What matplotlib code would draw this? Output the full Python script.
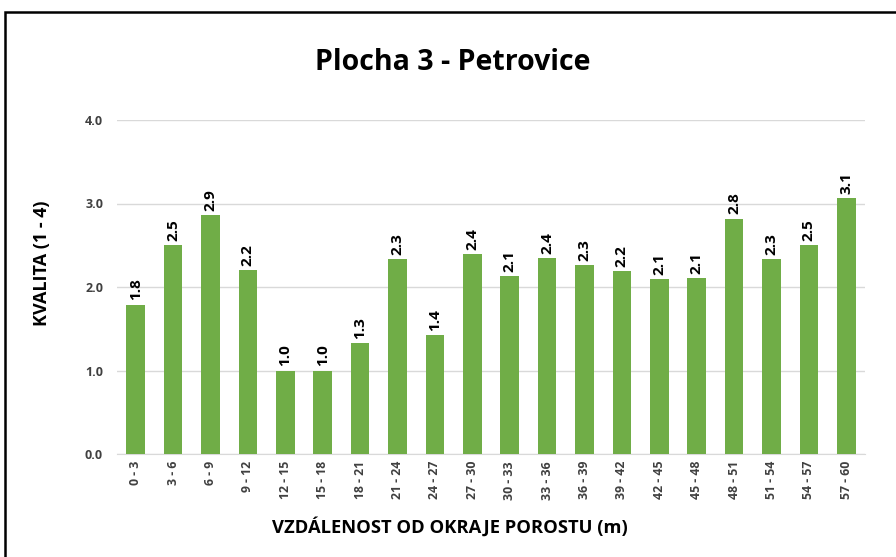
import matplotlib.pyplot as plt
from matplotlib.patches import Rectangle

# data
categories = ['0 - 3', '3 - 6', '6 - 9', '9 - 12', '12 - 15', '15 - 18', '18 - 21',
              '21 - 24', '24 - 27', '27 - 30', '30 - 33', '33 - 36', '36 - 39',
              '39 - 42', '42 - 45', '45 - 48', '48 - 51', '51 - 54', '54 - 57', '57 - 60']
kvalita = [1.79, 2.50, 2.86, 2.20, 1.00, 1.00, 1.33, 2.33, 1.42, 2.39,
           2.13, 2.35, 2.26, 2.19, 2.09, 2.11, 2.82, 2.33, 2.50, 3.06]
y_ticks = [0.0, 1.0, 2.0, 3.0, 4.0]

plt.rcParams['font.family'] = ['Open Sans', 'DejaVu Sans']

fig = plt.figure(figsize=(8.96, 5.57), dpi=100)
ax = fig.add_axes([117 / 896, 1 - 454 / 557, 748 / 896, 334 / 557])

x = range(len(categories))
bars = ax.bar(x, kvalita, width=0.5, color='#70AD47', zorder=3)

for rect, v in zip(bars, kvalita):
    ax.annotate(f'{v:.1f}', (rect.get_x() + rect.get_width() / 2, v),
                xytext=(0, 3), textcoords='offset points',
                ha='center', va='bottom', rotation=90,
                fontsize=11, fontweight='bold', color='black')

ax.set_xlim(-0.5, len(categories) - 0.5)
ax.set_ylim(0, 4)
ax.set_yticks(y_ticks)
ax.set_yticklabels([f'{t:.1f}' for t in y_ticks], fontsize=9, fontweight='bold', color='#404040')
ax.set_xticks(list(x))
ax.set_xticklabels(categories, rotation=90, fontsize=8.8, fontweight='bold', color='#404040')
ax.tick_params(length=0, pad=5)
ax.tick_params(axis='y', pad=10)

ax.grid(axis='y', color='#d9d9d9', linewidth=1, zorder=0)
for s in ['top', 'right', 'left']:
    ax.spines[s].set_visible(False)
ax.spines['bottom'].set_color('#d9d9d9')

fig.text(42 / 896, 1 - 263 / 557, 'KVALITA (1 - 4)', rotation=90,
         ha='center', va='center', fontsize=13, fontweight='bold')
fig.text(450 / 896, 1 - 527 / 557, 'VZDÁLENOST OD OKRAJE POROSTU (m)',
         ha='center', va='center', fontsize=13.2, fontweight='bold')
fig.text(453 / 896, 1 - 62 / 557, 'Plocha 3 - Petrovice',
         ha='center', va='center', fontsize=20.5, fontweight='bold')

# outer frame of the chart area (runs off the right and bottom edge)
fig.patches.append(Rectangle((5 / 896, -0.05), 1.0, 1 - 12 / 557 + 0.05,
                             transform=fig.transFigure, fill=False,
                             edgecolor='black', linewidth=1.8))

fig.savefig('out.png', dpi=100)
